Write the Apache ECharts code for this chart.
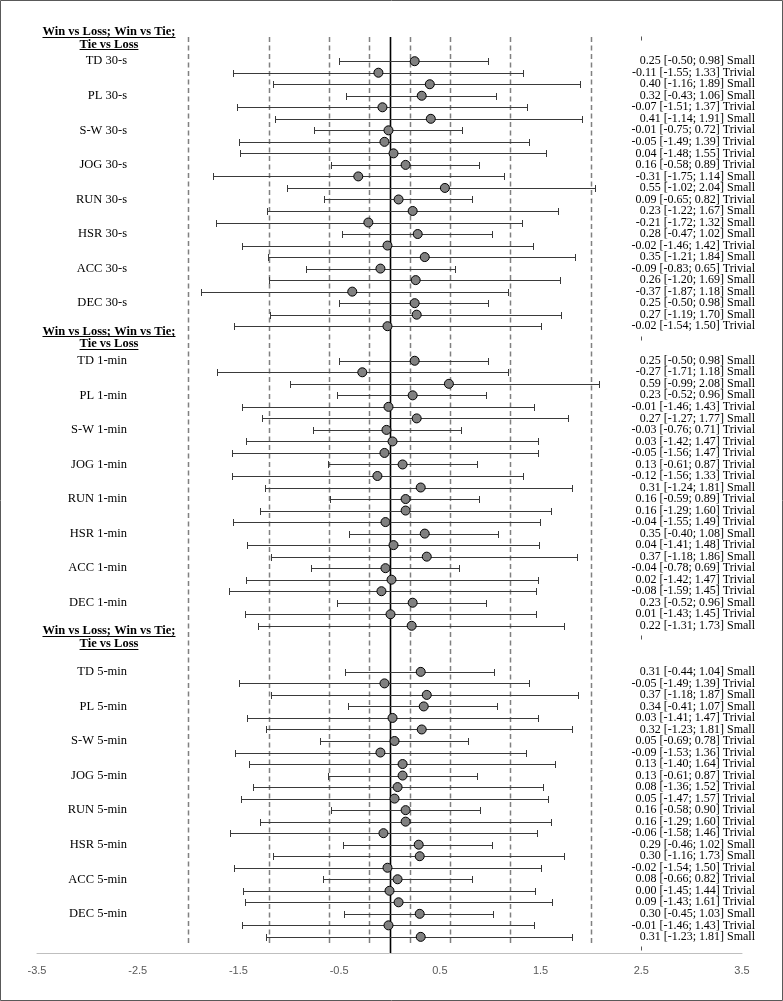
<!DOCTYPE html>
<html><head><meta charset="utf-8">
<script src="https://cdn.jsdelivr.net/npm/echarts@6/dist/echarts.min.js"></script>
<style>html,body{margin:0;padding:0;background:#fff}#c{width:783px;height:1001px}</style>
</head><body><div id="c"></div>
<script>
// ---------- DATA ----------
const variables = ["TD", "PL", "S-W", "JOG", "RUN", "HSR", "ACC", "DEC"];
const windows = ["30-s", "1-min", "5-min"];
const headerLines = ["Win vs Loss; Win vs Tie;", "Tie vs Loss"];
// each window: 24 rows = 8 variables x (Win vs Loss, Win vs Tie, Tie vs Loss)
const est30 = [0.25,-0.11,0.40, 0.32,-0.07,0.41, -0.01,-0.05,0.04, 0.16,-0.31,0.55, 0.09,0.23,-0.21, 0.28,-0.02,0.35, -0.09,0.26,-0.37, 0.25,0.27,-0.02];
const lo30  = [-0.50,-1.55,-1.16, -0.43,-1.51,-1.14, -0.75,-1.49,-1.48, -0.58,-1.75,-1.02, -0.65,-1.22,-1.72, -0.47,-1.46,-1.21, -0.83,-1.20,-1.87, -0.50,-1.19,-1.54];
const hi30  = [0.98,1.33,1.89, 1.06,1.37,1.91, 0.72,1.39,1.55, 0.89,1.14,2.04, 0.82,1.67,1.32, 1.02,1.42,1.84, 0.65,1.69,1.18, 0.98,1.70,1.50];
const mag30 = ["Small","Trivial","Small", "Small","Trivial","Small", "Trivial","Trivial","Trivial", "Trivial","Small","Small", "Trivial","Small","Small", "Small","Trivial","Small", "Trivial","Small","Small", "Small","Small","Trivial"];

const est1m = [0.25,-0.27,0.59, 0.23,-0.01,0.27, -0.03,0.03,-0.05, 0.13,-0.12,0.31, 0.16,0.16,-0.04, 0.35,0.04,0.37, -0.04,0.02,-0.08, 0.23,0.01,0.22];
const lo1m  = [-0.50,-1.71,-0.99, -0.52,-1.46,-1.27, -0.76,-1.42,-1.56, -0.61,-1.56,-1.24, -0.59,-1.29,-1.55, -0.40,-1.41,-1.18, -0.78,-1.42,-1.59, -0.52,-1.43,-1.31];
const hi1m  = [0.98,1.18,2.08, 0.96,1.43,1.77, 0.71,1.47,1.47, 0.87,1.33,1.81, 0.89,1.60,1.49, 1.08,1.48,1.86, 0.69,1.47,1.45, 0.96,1.45,1.73];
const mag1m = ["Small","Small","Small", "Small","Trivial","Small", "Trivial","Trivial","Trivial", "Trivial","Trivial","Small", "Trivial","Trivial","Trivial", "Small","Trivial","Small", "Trivial","Trivial","Trivial", "Small","Trivial","Small"];

const est5m = [0.31,-0.05,0.37, 0.34,0.03,0.32, 0.05,-0.09,0.13, 0.13,0.08,0.05, 0.16,0.16,-0.06, 0.29,0.30,-0.02, 0.08,0.00,0.09, 0.30,-0.01,0.31];
const lo5m  = [-0.44,-1.49,-1.18, -0.41,-1.41,-1.23, -0.69,-1.53,-1.40, -0.61,-1.36,-1.47, -0.58,-1.29,-1.58, -0.46,-1.16,-1.54, -0.66,-1.45,-1.43, -0.45,-1.46,-1.23];
const hi5m  = [1.04,1.39,1.87, 1.07,1.47,1.81, 0.78,1.36,1.64, 0.87,1.52,1.57, 0.90,1.60,1.46, 1.02,1.73,1.50, 0.82,1.44,1.61, 1.03,1.43,1.81];
const mag5m = ["Small","Trivial","Small", "Small","Trivial","Small", "Trivial","Trivial","Trivial", "Trivial","Trivial","Trivial", "Trivial","Trivial","Trivial", "Small","Small","Trivial", "Trivial","Trivial","Trivial", "Small","Trivial","Small"];

const thresholds = [-2.0, -1.2, -0.6, -0.2, 0.2, 0.6, 1.2, 2.0];
const headerMarkValue = 2.5;
const xTickLabels = [-3.5, -2.5, -1.5, -0.5, 0.5, 1.5, 2.5, 3.5];

// ---------- LAYOUT ----------
const EST = [est30, est1m, est5m], LO = [lo30, lo1m, lo5m], HI = [hi30, hi1m, hi5m], MAG = [mag30, mag1m, mag5m];
const headerRows = [0, 26, 52, 79];
const gapAfterHeader = [2, 2, 3];
const SERIF = '"Liberation Serif", "Times New Roman", serif';

const barData = [], pointData = [], texts = [];
windows.forEach((w, s) => {
  const start = headerRows[s] + gapAfterHeader[s];
  texts.push({kind: 'header', row: headerRows[s] - 0.55, text: headerLines[0]});
  texts.push({kind: 'header', row: headerRows[s] + 0.55, text: headerLines[1]});
  barData.push([headerMarkValue, headerRows[s], headerMarkValue, 1]);
  for (let i = 0; i < 24; i++) {
    const row = start + i;
    barData.push([LO[s][i], row, HI[s][i], 0]);
    pointData.push([EST[s][i], row]);
    texts.push({kind: 'stat', row, text: EST[s][i].toFixed(2) + ' [' + LO[s][i].toFixed(2) + '; ' + HI[s][i].toFixed(2) + '] ' + MAG[s][i]});
    if (i % 3 === 0) texts.push({kind: 'label', row, text: variables[i / 3] + ' ' + w});
  }
});
barData.push([headerMarkValue, headerRows[3], headerMarkValue, 1]);

const measure = document.createElement('canvas').getContext('2d');

const chart = echarts.init(document.getElementById('c'), null, {renderer: 'canvas'});
chart.setOption({
  animation: false,
  backgroundColor: '#ffffff',
  grid: {left: 37, right: 41, top: 37, bottom: 48},
  xAxis: {
    type: 'value', min: -3.5, max: 3.5, interval: 0.5, position: 'bottom',
    axisLine: {show: true, onZero: false, lineStyle: {color: '#bfbfbf', width: 1}},
    axisTick: {show: false}, splitLine: {show: false},
    axisLabel: {
      margin: 12, color: '#595959', fontSize: 11, fontFamily: '"Liberation Sans", Arial, sans-serif',
      showMinLabel: true, showMaxLabel: true,
      formatter: v => xTickLabels.some(t => Math.abs(t - v) < 1e-9) ? v.toFixed(1) : ''
    }
  },
  yAxis: {type: 'value', inverse: true, min: -0.1, max: 79.4, show: false},
  graphic: [{type: 'rect', shape: {x: 0.5, y: 0.5, width: 782, height: 1000}, style: {fill: null, stroke: '#595959', lineWidth: 1}, z: 100}],
  series: [
    { // reference lines
      type: 'custom', z: 1, clip: false,
      data: thresholds.concat([0]).map(v => [v]),
      encode: {x: 0},
      renderItem: (params, api) => {
        const v = api.value(0);
        const cs = params.coordSys;
        const x = Math.round(api.coord([v, 0])[0]) + 0.5;
        const isZero = Math.abs(v) < 1e-9;
        return {type: 'line', shape: {x1: x, y1: cs.y, x2: x, y2: cs.y + cs.height - (isZero ? 0 : 7)},
          style: {stroke: isZero ? '#000000' : '#808080', lineWidth: isZero ? 1.6 : 1.5, lineDash: isZero ? null : [5, 3.5]}};
      }
    },
    { // error bars
      type: 'custom', z: 3, clip: false,
      data: barData,
      encode: {x: [0, 2], y: 1},
      renderItem: (params, api) => {
        const lo = api.value(0), row = api.value(1), hi = api.value(2), mark = api.value(3);
        const p1 = api.coord([lo, row]), p2 = api.coord([hi, row]);
        const y = Math.round(p1[1]) + 0.5;
        const st = {stroke: '#3a3a3a', lineWidth: 1};
        if (mark) {
          const x = Math.round(p1[0]) + 0.5;
          return {type: 'line', shape: {x1: x, y1: y - 2, x2: x, y2: y + 2}, style: {stroke: '#555', lineWidth: 1}};
        }
        const x1 = Math.round(p1[0]) + 0.5, x2 = Math.round(p2[0]) + 0.5;
        return {type: 'group', children: [
          {type: 'line', shape: {x1, y1: y, x2, y2: y}, style: st},
          {type: 'line', shape: {x1, y1: y - 3.5, x2: x1, y2: y + 3.5}, style: st},
          {type: 'line', shape: {x1: x2, y1: y - 3.5, x2, y2: y + 3.5}, style: st}
        ]};
      }
    },
    { // point estimates
      type: 'scatter', z: 4,
      data: pointData,
      symbol: 'circle', symbolSize: 9,
      itemStyle: {color: '#808080', borderColor: '#000000', borderWidth: 1, opacity: 1}
    },
    { // texts
      type: 'custom', z: 5, clip: false,
      data: texts.map((t, i) => [0, t.row, i]),
      encode: {x: 0, y: 1},
      renderItem: (params, api) => {
        const t = texts[api.value(2)];
        const y = api.coord([0, t.row])[1];
        if (t.kind === 'stat') {
          return {type: 'text', style: {text: t.text, x: 755, y, align: 'right', textAlign: 'right', verticalAlign: 'middle', textVerticalAlign: 'middle', font: '12px ' + SERIF, fill: '#000'}};
        }
        if (t.kind === 'label') {
          return {type: 'text', style: {text: t.text, x: 127, y, align: 'right', textAlign: 'right', verticalAlign: 'middle', textVerticalAlign: 'middle', font: '12.5px ' + SERIF, fill: '#000'}};
        }
        const font = 'bold 12.5px ' + SERIF;
        measure.font = font;
        const w = measure.measureText(t.text).width;
        const cx = 109;
        const uy = Math.round(y + 5) + 0.5;
        return {type: 'group', children: [
          {type: 'text', style: {text: t.text, x: cx, y, align: 'center', textAlign: 'center', verticalAlign: 'middle', textVerticalAlign: 'middle', font, fill: '#000'}},
          {type: 'line', shape: {x1: cx - w / 2, y1: uy, x2: cx + w / 2, y2: uy}, style: {stroke: '#000', lineWidth: 1}}
        ]};
      }
    }
  ]
});
</script>
</body></html>
